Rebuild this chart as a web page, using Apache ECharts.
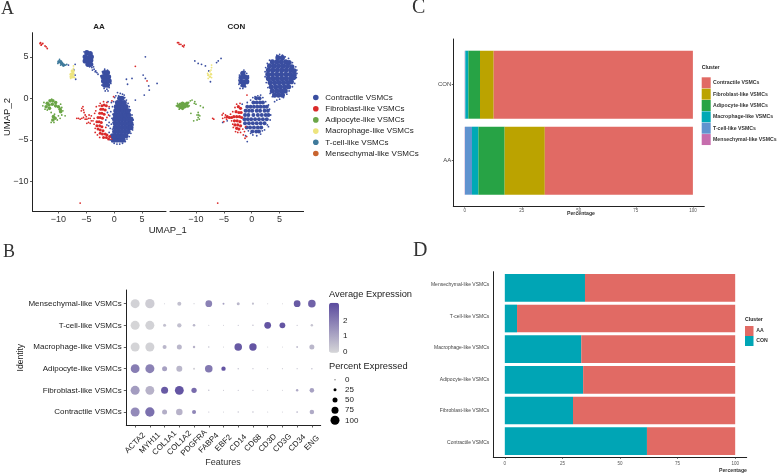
<!DOCTYPE html>
<html><head><meta charset="utf-8">
<style>html,body{margin:0;padding:0;background:#fff}#c{width:777px;height:476px;filter:blur(.3px)}</style>
<script src="https://cdn.jsdelivr.net/npm/echarts@6/dist/echarts.min.js"></script>
</head><body><div id="c"></div>
<script>
const clusters=['Contractile VSMCs','Fibroblast-like VSMCs','Adipocyte-like VSMCs','Macrophage-like VSMCs','T-cell-like VSMCs','Mensechymal-like VSMCs'];
const features=['ACTA2','MYH11','COL1A1','COL1A2','PDGFRA','FABP4','EBF2','CD14','CD68','CD3D','CD3G','CD34','ENG'];
// UMAP points: "Core" = densely filled zones, "Dots" = individual cells
const aaContractileCore=[[-.1,-5],[.5,-5],[1.1,-5],[1.6,-5],[-.3,-4.5],[.3,-4.5],[.9,-4.5],[1.5,-4.5],[2.1,-4.5],[.1,-4],[.7,-4],[1.3,-4],[1.9,-4],[2.5,-4],[.2,-3.5],[.8,-3.5],[1.4,-3.5],[2,-3.5],[2.6,-3.5],[3,-3.5],[.2,-3],[.8,-3],[1.4,-3],[2,-3],[2.6,-3],[3,-3],[.1,-2.5],[.7,-2.5],[1.3,-2.5],[1.9,-2.5],[2.5,-2.5],[3,-2.5],[.2,-2],[.8,-2],[1.4,-2],[2,-2],[2.6,-2],[.3,-1.5],[.9,-1.5],[1.5,-1.5],[2.1,-1.5],[2.5,-1.5],[.4,-1],[1,-1],[1.6,-1],[2.1,-1],[.6,-.5],[1.2,-.5],[1.8,-.5],[1,0],[1.4,0],
[-4.9,5.5],[-4.3,5.4],[-5.2,5],[-4.6,4.9],[-4.1,5],[-5.2,4.5],[-4.7,4.5],[-4.2,4.6],[-4.7,4.1],[-4.2,4.1],[-1.7,3.1],[-1.2,3.1],[-2,2.6],[-1.5,2.6],[-1,2.6],[-1.9,2.1],[-1.4,2.1],[-.9,2.1],[-1.7,1.6],[-1.2,1.6]];
const aaContractileDots=[[-.9,-1.2],[-.6,-1.6],[-.3,-1],[-.8,-2.1],[-.4,-2.4],[-.2,-1.9],[-.9,-2.9],[-.5,-3.1],[-.2,-2.9],[-.7,-3.6],[-.3,-3.7],[-1,-3.3],[-.1,-.4],[.1,.1],[-.5,-.5],[-1.2,-1.7],[-1.5,-2.6],[-1.3,-3.2],[-.9,-4.1],[-1.1,-.4],[.6,.7],[1.1,.6],[1.5,.5],[1.9,.1],[.8,.3],[2.2,-.2],[2.5,-.6],[.3,.3],[1.8,.4],[2.7,-1],[2.9,-1.4],[3.2,-2],[3.4,-2.6],[3.4,-3.2],[3.3,-3.8],[3,-4.2],[2.7,-4.6],[2.3,-4.9],[2,-5.2],[1.5,-5.4],[1,-5.5],[.5,-5.5],[0,-5.4],[-.4,-5.2],[-.7,-5],
[-4,3.7],[-3.9,3.4],[-3.6,3.5],[-4.4,3.8],[-5.4,5.6],[-3.3,3.3],[-3.1,3.1],[-2.9,2.9],[-3.4,3.2],[-3.7,3.8],[-1.8,1.2],[-1.3,1.1],[-.9,1.3],[-1.6,.9],[-1.1,.9],[-2.2,1.6],[-1.7,3.5],[-1.2,3.4],[-2.4,2.7],[-.6,1.8],[-2.1,3.2],
[2.2,2.3],[3.2,2.4],[2.4,1.7],[5.6,5],[5.2,2.8],[5.6,2.4],[6.2,1.5],[6.3,1],[7.7,1.8],[5.4,.4],[3.8,-.2],[-8.2,4],[-7,4.1],[-6.9,2.3],[-7,2.8],[-7.2,3.4]];
const aaFibroblastCore=[[-2.2,-.9],[-1.8,-.8],[-1.4,-.9],[-2.4,-1.3],[-2,-1.3],[-1.6,-1.4],[-2.6,-1.8],[-2.2,-1.8],[-1.8,-1.9],[-2.9,-2.3],[-2.5,-2.3],[-2.1,-2.4],[-3.1,-2.8],[-2.7,-2.8],[-2.3,-2.9],[-3.1,-3.3],[-2.6,-3.3],[-2.2,-3.4],[-2.9,-3.7],[-2.5,-3.8],[-2,-3.9],[-2.5,-4.2],[-2.1,-4.3],[-1.6,-4.3],[-1.9,-4.7],[-1.4,-4.7],[-1,-4.9],[-1.3,-4.4],[-.8,-4.6]];
const aaFibroblastDots=[[-13.2,6.7],[-13,6.5],[-12.8,6.6],[-13.1,6.4],[-12.4,6.3],[-12.2,6.2],[-12,6],[-13.3,6.6],[-6.1,-12.6],[3.8,3.85],[5.9,2.1],[-5.8,-1.2],[-5.6,-1],[-5.9,-1.5],[-5.5,-1.4],[-5.2,-2],[-5.4,-1.7],[-5,-2.2],[-4.6,-2.4],[-4.3,-2.4],[-4.1,-2.1],[-4.5,-2],[-6.7,-2.4],[-6.4,-2.4],[-6.1,-2.5],[-5.8,-2.4],[-5.5,-2.3],[-5.2,-2.5],[-4.9,-2.5],[-4.9,-3],[-4.6,-2.9],[-4.3,-3],[-4.1,-2.7],[-3.8,-2.7],[-3.6,-2.4],[-3.5,-1.8],[-3.6,-3.1],[-3.4,-3.6],[-3.3,-1.5],[-3.2,-1],[-2.7,-.9],[-2.5,-.6],[-1.9,-.4],[-1.3,-.5],[-.9,-1],[-1,-2],[-1.3,-2.3],[-1.5,-3.5],[-3.4,-4.1],[-3,-4.4],[-2.6,-4.7],[-.5,-4.9],[-.4,-.3],[-.1,.2]];
const aaAdipocyteCore=[[-12,-.6],[-11.5,-.3],[-11,-.3],[-10.5,-.5],[-12.2,-1],[-11.7,-.8],[-11.1,-.7],[-10.5,-.9],[-10,-1],[-11.6,-1.2],[-9.7,-1.3],[-9.6,-1.6],[-10.9,-2.2],[-11,-2.6],[-10.6,-2.4]];
const aaAdipocyteDots=[[-12.8,-.9],[-12.6,-.5],[-11.2,-.1],[-12.4,-1.3],[-12,-1.4],[-9.4,-1.1],[-9.2,-1.5],[-9.4,-2],[-10,-2.1],[-9.7,-2.4],[-10.2,-2.6],[-11.3,-2.9],[-10.8,-2.9],[-10.7,-1.9],[-11.3,-1.7],[-8.8,-2.1],[-9.6,-.7]];
const aaMacrophageCore=[[-7.7,2.6],[-7.4,2.6],[-7.7,2.9],[-7.4,3],[-7.5,3.3]];
const aaMacrophageDots=[[-7.3,3.6],[-7.3,3.9],[-7.2,3.3],[-7.8,2.4],[-7.1,2.5]];
const aaTcellCore=[[-9.9,4.4],[-9.6,4.4],[-9.4,4.2],[-9.1,4]];
const aaTcellDots=[[-10.1,4.2],[-9.8,4.7],[-8.9,4],[-8.7,4],[-9.6,4],[-8.5,4.1]];
const conContractileCore=[[4.7,4.9],[5.5,4.9],[3.7,4.4],[4.5,4.4],[5.3,4.4],[6.1,4.4],[6.7,4.3],[3.2,3.9],[4,3.9],[4.8,3.9],[5.6,3.9],[6.4,3.9],[7.2,3.8],[3,3.4],[3.8,3.4],[4.6,3.4],[5.4,3.4],[6.2,3.4],[7,3.4],[7.6,3.3],[2.9,2.9],[3.7,2.9],[4.5,2.9],[5.3,2.9],[6.1,2.9],[6.9,2.9],[7.6,2.8],[3,2.4],[3.8,2.4],[4.6,2.4],[5.4,2.4],[6.2,2.4],[7,2.4],[7.5,2.5],[3.3,1.9],[4.1,1.9],[4.9,1.9],[5.7,1.9],[6.5,1.9],[7.1,2],[3.5,1.4],[4.3,1.4],[5.1,1.4],[5.9,1.4],[6.6,1.4],[3.7,.9],[4.5,.9],[5.3,.9],[6,.9],[4.1,.4],[4.8,.4],[5.5,.4],
[-1.6,3],[-1.9,2.5],[-1.3,2.6],[-.9,2.5],[-1.9,2],[-1.4,2],[-.9,2],[-1.5,1.6]];
const conContractileDots=[[5,5.3],[4.5,5.2],[5.5,5.2],[6,5],[6.6,4.8],[3.2,4.6],[2.8,4.2],[7.3,4.3],[7.9,3.8],[8.1,3],[8.1,3.4],[8,2.5],[7.7,1.8],[7.3,1.4],[6.7,.9],[6.3,.5],[5.7,.1],[5,-.1],[4.5,-.2],[4.1,-.4],[3.7,.2],[3.3,.6],[2.9,1.3],[2.6,1.9],[2.4,2.6],[2.4,3.2],[2.5,3.7],
[-1.4,3.4],[-1.2,3.2],[-2.2,2.8],[-2.3,2.2],[-.6,2.7],[-.6,2.1],[-1.9,1.5],[-1.1,1.4],[-1.6,1.2],[-2.3,1.7],[-.9,3],[-2.1,1.2],
[.6,.2],[1.1,.3],[1.6,.4],[2,.1],[2.5,-.4],[3,-.8],[3.2,-1.3],[3.4,-2],[3.3,-2.6],[3,-3.4],[2.8,-3.2],[2.3,-3.8],[1.9,-3.9],[1.6,-4.3],[.9,-4.5],[.2,-4.4],[-.2,-4.2],[-.6,-3.9],[-.8,-5.2],[-1.1,-4.5],[-1.7,-.7],[-.8,-.5],[-.2,-.2],[.2,.1],[-10.2,4.5],[-9.6,4.2],[-9,4.1],[-8.3,3.9],[-6.3,4.3],[-5.5,4.8],[-6,4.5],[-7.7,3.3],[-7.4,2],[-12.9,-.8],[-5.2,-2.9],[-4.4,-2.7]];
const conMainCore=[[.8,0],[1.4,0],[.3,-.5],[.9,-.5],[1.5,-.5],[2,-.5],[-.8,-1],[-.2,-1],[.4,-1],[1,-1],[1.6,-1],[2.2,-1],[2.7,-1],[-1.1,-1.5],[-.5,-1.5],[.1,-1.5],[.9,-1.5],[1.5,-1.5],[2.3,-1.5],[2.9,-1.5],[-1.2,-2],[-.6,-2],[.3,-2],[1.1,-2],[1.8,-2],[2.5,-2],[3,-2],[-1.3,-2.5],[-.7,-2.5],[-.1,-2.5],[.6,-2.5],[1.3,-2.5],[2,-2.5],[2.7,-2.5],[-1.2,-3],[-.5,-3],[.2,-3],[.9,-3],[1.6,-3],[2.3,-3],[-.9,-3.5],[-.3,-3.5],[.4,-3.5],[1.1,-3.5],[1.7,-3.5],[.1,-4],[.8,-4],[1.3,-4]];
const conFibroblastCore=[[-2.4,-1],[-2,-1.2],[-2.8,-1.6],[-2.3,-1.7],[-1.9,-1.7],[-3.2,-2.2],[-2.7,-2.2],[-2.2,-2.2],[-1.8,-2.3],[-3.1,-2.7],[-2.6,-2.7],[-2.1,-2.8],[-3,-3.2],[-2.5,-3.2],[-2,-3.3],[-2.3,-3.7],[-2.7,-3.6],[-3.6,-2.3],[-4,-2.3],[-4.4,-2.2]];
const conFibroblastDots=[[-13.3,6.7],[-13,6.5],[-12.7,6.5],[-12.4,6.3],[-12.2,6.2],[-12.1,6.4],[-13.1,6.7],[-6.1,-12.6],[-.85,.4],[-5.3,-2],[-5.2,-2.4],[-5,-2.8],[-5.1,-1.8],[-6.8,-2.5],[-7,-2.4],[-4.8,-2.3],[-4.7,-2],[-4.5,-2.5],[-3.8,-1.9],[-3.4,-1.6],[-3,-1.1],[-2.7,-.7],[-2.1,-.6],[-3.6,-2.7],[-3.4,-3.1],[-3.3,-3.5],[-2.9,-4],[-2.5,-4.1],[-2,-4.1],[-1.5,-4.4],[-1.2,-4.8],[-.9,-4.6],[-1.3,-4],[-1.1,-3.4],[-1.6,-3.7]];
const conAdipocyteCore=[[-13.2,-.9],[-12.8,-.7],[-12.8,-1.1],[-12.4,-.6],[-12.4,-.9],[-12.4,-1.2],[-12,-.7],[-12,-1],[-11.6,-.6],[-11.6,-.9]];
const conAdipocyteDots=[[-13.5,-.9],[-13.3,-.6],[-13,-1.3],[-11.3,-.5],[-11.4,-1],[-11,-.3],[-10.7,-.2],[-10.2,-.4],[-10,-.7],[-10.3,-.6],[-11.2,-.9],[-9.6,-1.7],[-9.5,-2],[-9.8,-2],[-9.6,-2.3],[-9.3,-2.1],[-9.8,-2.6],[-9.4,-2.5],[-10.9,-1.8],[-10.4,-2.7],[-9.2,-.9],[-8.7,-1.1]];
const conMacrophageCore=[[-7.8,2.8],[-7.5,2.6],[-7.3,2.9]];
const conMacrophageDots=[[-7.2,4],[-7.2,3.7],[-7.3,3.4],[-7.5,3.2],[-7.8,2.4],[-7.2,2.5],[-7.9,3]];
// panel B: rows follow clusters, columns follow features
const avgExpression=[
[1.7,2.3,.9,.8,1.8,.5,.3,.4,.5,.3,.3,.7,1],
[1.3,.8,2.8,2.9,2.4,.5,.3,.4,.4,.3,.3,1,1.2],
[2,1.9,1.2,.7,.2,2.1,2.9,.5,.4,.3,.3,.4,.5],
[.05,.1,.7,.7,.8,.5,.3,2.8,2.9,.3,.2,.6,.7],
[.03,.1,.5,.5,.7,.3,.3,.4,.5,2.9,2.9,.4,.4],
[.1,.2,.3,.5,.3,1.9,1.2,.7,.5,.3,.2,2.8,2.6]];
const pctExpressed=[
[100,104,50,69,38,3,1,6,6,1,1,9,44],
[100,98,75,98,54,6,2,3,3,1,1,18,45],
[98,100,50,62,12,82,42,6,3,1,1,3,6],
[100,100,38,50,18,6,1,82,80,0,0,10,50],
[100,100,25,42,20,1,1,3,6,72,60,4,18],
[100,104,0,38,1,72,12,25,15,0,0,72,82]];
const sizeLegendValues=[0,25,50,75,100];
const colourBarTicks=[0,1,2];
// panels C and D: percentages
const conComposition=[87.3,6,5.1,1.3,.2,.1];
const aaComposition=[64.9,17.6,11.5,2.8,3.1,.1];
const sampleRows=['AA','CON'];
const conShare=[61.7,29.6,34,33.2,5.3,34.8];
const aaShare=[38.3,70.4,66,66.8,94.7,65.2];

const umapColours=['#3A4EA0','#DA2A2A','#6BA547','#EDE47E','#3F7A9B','#C8642F'];
const barColours=['#E16A64','#BBA300','#27A345','#00A9B5','#6093CF','#C66DAD'];
const SANS='"Liberation Sans",Arial,sans-serif', SERIF='"Liberation Serif",serif';
const txt=(x,y,text,size,o={})=>({type:'text',silent:true,style:{x,y,text,fill:o.fill||'#222',font:(o.weight||'normal')+' '+size+'px '+(o.family||SANS),textAlign:o.align||'left',textVerticalAlign:'middle',textBaseline:'middle'}});
const minus=v=>String(v).replace('-','\u2212');
const lineS={lineStyle:{color:'#222',width:1}};
function valAxis(gi,min,max,ticks,o={}){
  return Object.assign({type:'value',gridIndex:gi,min,max,splitLine:{show:false},
    axisLine:Object.assign({show:true,onZero:false},lineS),
    axisTick:{show:o.tick!==false,length:o.tickLen||2.5,customValues:ticks,lineStyle:{color:'#333',width:.8}},
    axisLabel:Object.assign({show:o.label!==false,customValues:ticks,fontFamily:SANS,fontSize:o.size||9,color:o.color||'#333',margin:o.margin||4,formatter:o.fmt||minus,rotate:o.rotate||0,hideOverlap:false,showMinLabel:true,showMaxLabel:true},o.labelExtra||{})
  },o.extra||{});
}
const grids=[
 {left:32.5,top:32.7,width:133.5,height:178.3},
 {left:170,top:32.7,width:133.6,height:178.3},
 {left:126.3,top:290,width:194.4,height:135},
 {left:453.3,top:39,width:251,height:167},
 {left:453.3,top:46.7,width:251,height:152},
 {left:493.3,top:271.7,width:253.4,height:185.6},
 {left:493.3,top:272.5,width:253.4,height:184}
].map(g=>Object.assign(g,{containLabel:false,outerBoundsMode:'none'}));
const umapX=[-10,-5,0,5], umapY=[-10,-5,0,5];
const xAxes=[
 valAxis(0,-14.65,9.3,umapX),
 valAxis(1,-14.65,9.3,umapX),
 valAxis(2,-.6,12.6,features.map((_,i)=>i),{size:8,rotate:45,margin:18,fmt:v=>features[v],color:'#222',labelExtra:{align:'center',verticalAlign:'middle'}}),
 valAxis(3,-5,105,[0,25,50,75,100],{size:4.5,tickLen:1.5,margin:2.5,color:'#555',fmt:String}),
 {type:'value',gridIndex:4,min:-5,max:105,show:false},
 valAxis(5,-5,105,[0,25,50,75,100],{size:4.5,tickLen:1.5,margin:3.5,color:'#555',fmt:String}),
 {type:'value',gridIndex:6,min:-5,max:105,show:false}
];
const yAxes=[
 valAxis(0,-13.55,7.9,umapY),
 {type:'value',gridIndex:1,min:-13.55,max:7.9,show:false},
 valAxis(2,-.6,5.63,clusters.map((_,i)=>i),{size:8,fmt:v=>clusters[v],color:'#222',margin:4.5}),
 valAxis(3,-.6,1.6,[0,1],{size:6,tickLen:1.5,margin:2,color:'#444',fmt:v=>sampleRows[v]}),
 {type:'category',gridIndex:4,data:sampleRows,show:false},
 valAxis(5,-.464,5.42,clusters.map((_,i)=>i),{size:5,tick:false,margin:4,color:'#444',fmt:v=>clusters[v]}),
 {type:'category',gridIndex:6,data:clusters,show:false}
];
const scat=(i,arr,size,g)=>({type:'scatter',name:clusters[i],xAxisIndex:g,yAxisIndex:g,data:arr,symbolSize:size,silent:true,itemStyle:{color:umapColours[i],opacity:1}});
const CORE=5.2,DOT=1.8,SMALL=3.6;
const series=[
 scat(0,aaContractileCore,CORE,0),scat(0,aaContractileDots,DOT,0),
 scat(1,aaFibroblastCore,3,0),scat(1,aaFibroblastDots,DOT,0),
 scat(2,aaAdipocyteCore,SMALL,0),scat(2,aaAdipocyteDots,DOT,0),
 scat(3,aaMacrophageCore,SMALL,0),scat(3,aaMacrophageDots,DOT,0),
 scat(4,aaTcellCore,SMALL,0),scat(4,aaTcellDots,DOT,0),
 scat(0,conContractileCore,CORE,1),scat(0,conMainCore,4,1),scat(0,conContractileDots,DOT,1),
 scat(1,conFibroblastCore,3.2,1),scat(1,conFibroblastDots,DOT,1),
 scat(2,conAdipocyteCore,SMALL,1),scat(2,conAdipocyteDots,DOT,1),
 scat(3,conMacrophageCore,2.4,1),scat(3,conMacrophageDots,DOT,1)
];
// no cells of this cluster can be told apart in panel A; the series keeps its legend entry
series.push(scat(5,[],DOT,0));
const dotIndex=series.length;
const dotData=[];
clusters.forEach((_,r)=>features.forEach((_,c)=>dotData.push([c,r,avgExpression[r][c],pctExpressed[r][c]])));
series.push({type:'scatter',name:'Dot plot',xAxisIndex:2,yAxisIndex:2,data:dotData,silent:true,itemStyle:{opacity:1},symbolSize:d=>1+d[3]*.08});
// stacks run from the left: last cluster first, as in the picture
[...clusters.keys()].reverse().forEach(i=>series.push({type:'bar',name:clusters[i],xAxisIndex:4,yAxisIndex:4,stack:'c',barWidth:68,silent:true,
  itemStyle:{color:barColours[i]},data:[aaComposition[i],conComposition[i]]}));
series.push({type:'bar',name:'CON',xAxisIndex:6,yAxisIndex:6,stack:'d',barWidth:27.7,silent:true,itemStyle:{color:'#00A5B5'},data:conShare});
series.push({type:'bar',name:'AA',xAxisIndex:6,yAxisIndex:6,stack:'d',barWidth:27.7,silent:true,itemStyle:{color:'#E16A64'},data:aaShare});

const rotText=(x,y,text,size)=>({type:'text',silent:true,x,y,rotation:Math.PI/2,style:{x:0,y:0,text,fill:'#222',font:'normal '+size+'px '+SANS,textAlign:'center',textVerticalAlign:'middle',textBaseline:'middle'}});
const graphic=[
 txt(1,9,'A',18,{family:SERIF,fill:'#333'}),txt(3,252,'B',18,{family:SERIF,fill:'#333'}),
 txt(412,8,'C',20,{family:SERIF,fill:'#333'}),txt(413,251,'D',20,{family:SERIF,fill:'#333'}),
 txt(99,27,'AA',8,{weight:'bold',align:'center'}),txt(236.3,27,'CON',8,{weight:'bold',align:'center'}),
 txt(167.7,230.7,'UMAP_1',9.5,{align:'center'}),
 rotText(7.5,117,'UMAP_2',9.5),
 rotText(20.7,357.7,'Identity',8.5),
 txt(223,463,'Features',9,{align:'center',fill:'#333'}),
 txt(329,294.5,'Average Expression',9.3,{fill:'#222'}),
 txt(329,366.5,'Percent Expressed',9.3,{fill:'#222'}),
 txt(701.7,68,'Cluster',5.2,{weight:'bold'}),
 txt(745,319.5,'Cluster',5.2,{weight:'bold'}),
 txt(581,214,'Percentage',5.2,{align:'center',weight:'bold',fill:'#333'}),
 txt(733,470.7,'Percentage',5.2,{align:'center',weight:'bold',fill:'#333'})
];
colourBarTicks.forEach(v=>graphic.push(txt(343,351.6-v*15.5,String(v),8)));
sizeLegendValues.forEach((v,i)=>{
  const cy=379.7+i*10.15;
  graphic.push({type:'circle',silent:true,shape:{cx:335,cy,r:(1+v*.08)/2},style:{fill:'#000'}});
  graphic.push(txt(345,cy,String(v),8));
});
const legItem=(names,colours,icon)=>names.map((name,i)=>({name,icon,itemStyle:{color:colours[i],opacity:1,borderWidth:0}}));
const option={
 animation:false,backgroundColor:'#fff',
 grid:grids,xAxis:xAxes,yAxis:yAxes,series,
 visualMap:{type:'continuous',seriesIndex:dotIndex,dimension:2,min:0,max:3.15,left:329,top:302.7,itemWidth:10,itemHeight:50,padding:0,calculable:false,text:null,showLabel:false,
   inRange:{color:['#D6D6D8','#5A4A9E']},textStyle:{fontSize:1,color:'rgba(0,0,0,0)'},hoverLink:false},
 legend:[
  {data:legItem(clusters,umapColours,'circle'),orient:'vertical',left:313,top:93,padding:0,itemWidth:9,itemHeight:5.6,itemGap:2.2,selectedMode:false,textStyle:{fontFamily:SANS,fontSize:8,color:'#222',lineHeight:9}},
  {data:legItem(clusters,barColours,'rect'),orient:'vertical',left:701.7,top:77.3,padding:0,itemWidth:9,itemHeight:11,itemGap:.35,selectedMode:false,textStyle:{fontFamily:SANS,fontSize:5.2,fontWeight:'bold',color:'#333',padding:[0,0,0,-2.7]}},
  {data:[{name:'AA',icon:'rect',itemStyle:{color:'#E16A64',opacity:1}},{name:'CON',icon:'rect',itemStyle:{color:'#00A5B5',opacity:1}}],orient:'vertical',left:745,top:326,padding:0,itemWidth:8.5,itemHeight:10,itemGap:0,selectedMode:false,textStyle:{fontFamily:SANS,fontSize:5.2,fontWeight:'bold',color:'#333',padding:[0,0,0,-2.2]}}
 ],
 graphic:{elements:graphic}
};
const chart=echarts.init(document.getElementById('c'),null,{renderer:'canvas'});
chart.setOption(option);
</script></body></html>
